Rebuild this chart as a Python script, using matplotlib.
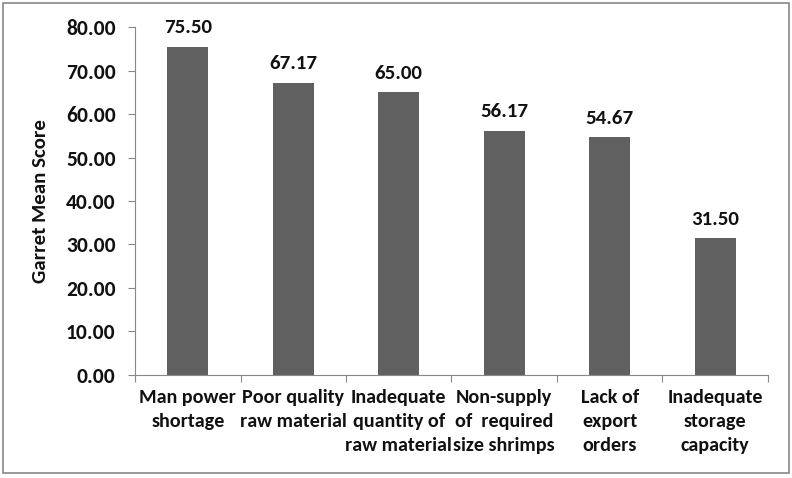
import matplotlib.pyplot as plt
from matplotlib.patches import Rectangle
import numpy as np

categories = [
    "Man power\nshortage",
    "Poor quality\nraw material",
    "Inadequate\nquantity of\nraw material",
    "Non-supply\nof  required\nsize shrimps",
    "Lack of\nexport\norders",
    "Inadequate\nstorage\ncapacity",
]
scores = [75.50, 67.17, 65.00, 56.17, 54.67, 31.50]

plt.rcParams['font.family'] = ['Carlito', 'Lato', 'DejaVu Sans']

fig = plt.figure(figsize=(7.92, 4.78), dpi=100)
ax = fig.add_axes([0.1705, 0.2155, 0.799, 0.728])

x = np.arange(len(categories))
ax.bar(x, scores, width=0.39, color='#606060')

for xi, v in zip(x, scores):
    ax.text(xi, v + 2.4, f"{v:.2f}", ha='center', va='bottom',
            fontsize=15, fontweight='bold', color='#111111')

ax.set_xlim(-0.5, len(categories) - 0.5)
ax.set_ylim(0, 80)
ax.set_yticks(np.arange(0, 81, 10))
ax.set_yticklabels([f"{t:.2f}" for t in np.arange(0, 81, 10)],
                   fontsize=15.5, fontweight='bold', color='#111111')

# category labels drawn as text so the line spacing can be widened
ax.set_xticks(np.arange(-0.5, len(categories), 1))
ax.set_xticklabels([])
ax.tick_params(axis='x', length=5, color='#888888', direction='out')
for xi, lab in zip(x, categories):
    ax.text(xi, -0.04, lab, transform=ax.get_xaxis_transform(), ha='center', va='top',
            fontsize=14.5, fontweight='bold', color='#111111', linespacing=1.5)

ax.tick_params(axis='y', length=5, color='#888888', pad=9)
ax.set_ylabel("Garret Mean Score", fontsize=15, fontweight='bold', color='#111111',
              labelpad=12)

for s in ['top', 'right']:
    ax.spines[s].set_visible(False)
for s in ['left', 'bottom']:
    ax.spines[s].set_color('#888888')

fig.patches.append(Rectangle((0.004, 0.0105), 0.992, 0.983, transform=fig.transFigure,
                             fill=False, edgecolor='#888888', linewidth=1.2))

fig.savefig("out.png", dpi=100)
